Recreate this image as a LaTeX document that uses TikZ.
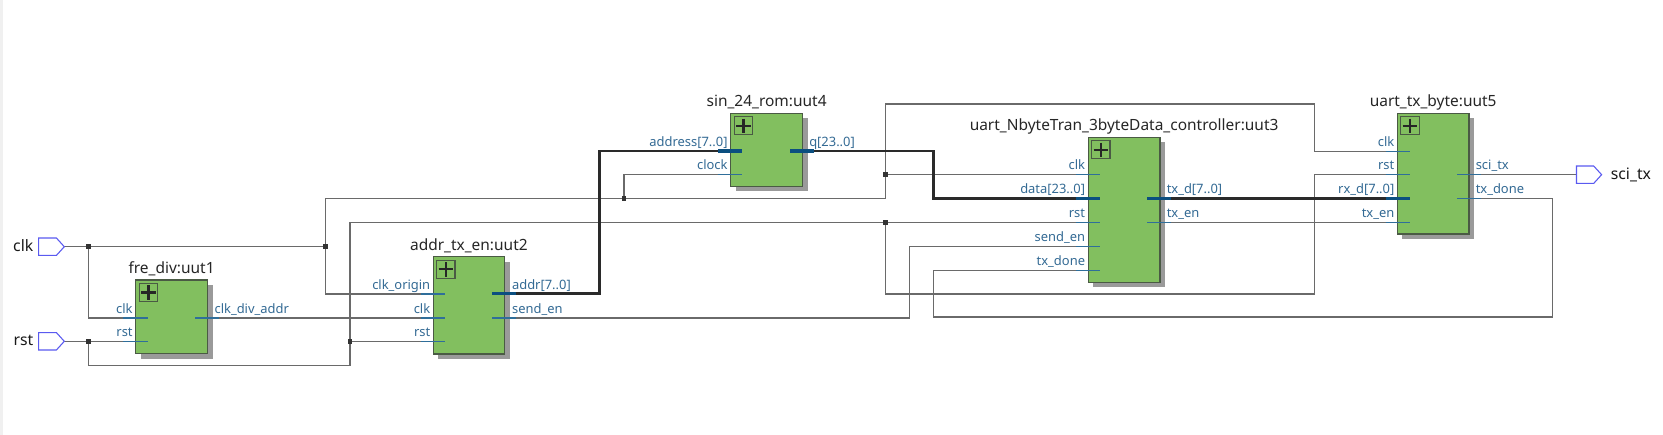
\documentclass[tikz,border=0pt]{standalone}
\usepackage{fontspec}
\setmainfont{Noto Sans}
\definecolor{blockgreen}{HTML}{82BF5F}
\definecolor{blockedge}{HTML}{4A5A44}
\definecolor{shade}{HTML}{9A9A9A}
\definecolor{wire}{HTML}{6A6A6A}
\definecolor{bus}{HTML}{2A2A2A}
\definecolor{stubblue}{HTML}{2F6E9A}
\definecolor{busblue}{HTML}{0B4F80}
\definecolor{labelblue}{HTML}{336A94}
\definecolor{portblue}{HTML}{5A5AF0}
\tikzset{
  x=0.75pt,y=-0.75pt,
  blockbox/.style={draw=blockedge,fill=blockgreen,line width=0.9pt,inner sep=0pt,outer sep=0pt},
  shadowbox/.style={fill=shade,draw=none},
  plusbox/.style={draw=blockedge,line width=0.8pt},
  plusmark/.style={draw=black!85,line width=1.7pt},
  net/.style={draw=wire,line width=0.9pt},
  busnet/.style={draw=bus,line width=2.1pt},
  pinstub/.style={draw=stubblue,line width=0.85pt},
  busstub/.style={draw=busblue,line width=2.3pt},
  dotj/.style={fill=black!80,draw=none},
  portshape/.style={draw=portblue,line width=0.8pt,fill=white,line join=miter},
  pinlabel/.style={text=labelblue,font=\fontsize{9.7}{11}\selectfont,inner sep=0pt},
  title/.style={text=black!85,font=\fontsize{11.6}{13}\selectfont,inner sep=0pt},
  extlabel/.style={text=black!90,font=\fontsize{11.8}{13}\selectfont,inner sep=0pt},
}
\newcommand\inlbl[4]{\node[pinlabel,anchor=base east] (#1) at (#2,#3-5) {#4};}
\newcommand\outlbl[4]{\node[pinlabel,anchor=base west] (#1) at (#2,#3-5) {#4};}
% name, left, top, right, bottom, title
\newcommand\block[6]{%
  \fill[shadowbox] (#2+5,#3+5) rectangle (#4+5,#5+5);
  \node[blockbox,minimum width=(#4-#2)*0.75pt,minimum height=(#5-#3)*0.75pt,anchor=north west] (#1) at (#2,#3) {};
  \draw[plusbox] (#2+3.6,#3+3.6) rectangle (#2+21.8,#3+21.6);
  \draw[plusmark] (#2+5.4,#3+12.6) -- (#2+20,#3+12.6) (#2+12.7,#3+5.4) -- (#2+12.7,#3+19.8);
  \node[title,anchor=base] (#1t) at ({(#2+#4)/2},#3-6.5) {#6};
}
\newcommand\jdot[1]{\fill[dotj] ($(#1)+(-2.3,-2.3)$) rectangle ($(#1)+(2.3,2.3)$);}
\usetikzlibrary{calc}
\begin{document}
\begin{tikzpicture}
\useasboundingbox (0,0) rectangle (1663,435);
\fill[white] (0,0) rectangle (1663,435);
\fill[black!6] (0,0) rectangle (3,435);

% pins
\coordinate (clkin) at (64.3,246.7);
\coordinate (rstin) at (64.3,341.3);
\coordinate (sciout) at (1576.5,174.7);
\coordinate (u1clk) at (123,318);
\coordinate (u1rst) at (123,341.3);
\coordinate (u1out) at (219,318);
\coordinate (u2origin) at (421,294);
\coordinate (u2clk) at (421,318);
\coordinate (u2rst) at (421,341.3);
\coordinate (u2addr) at (516,293.6);
\coordinate (u2send) at (516,318);
\coordinate (u4addr) at (718,151);
\coordinate (u4clock) at (718,174.7);
\coordinate (u4q) at (814,151);
\coordinate (u3clk) at (1076,174.7);
\coordinate (u3data) at (1076,198.7);
\coordinate (u3rst) at (1076,222.3);
\coordinate (u3send) at (1076,246.3);
\coordinate (u3done) at (1076,270.7);
\coordinate (u3txd) at (1171,198.7);
\coordinate (u3txen) at (1171,222.3);
\coordinate (u5clk) at (1385.5,151.3);
\coordinate (u5rst) at (1385.5,174.7);
\coordinate (u5rxd) at (1385.5,198.7);
\coordinate (u5txen) at (1385.5,222.3);
\coordinate (u5sci) at (1481,174.7);
\coordinate (u5done) at (1481,198.7);
% junctions
\coordinate (jclk1) at (88.2,246.7);
\coordinate (jclk2) at (325.7,246.7);
\coordinate (jclk3) at (623.9,198.7);
\coordinate (jclk4) at (885.7,174.7);
\coordinate (jrst1) at (88.2,341.3);
\coordinate (jrst2) at (350,341.3);
\coordinate (jrst3) at (885.7,222.3);

% nets
\draw[net] (clkin) -- (jclk2);
\draw[net] (jclk1) |- (u1clk);
\draw[net] (jclk2) |- (u2origin);
\draw[net] (jclk2) -- (325.7,198.7) -- (885.7,198.7) -- (885.7,104) -- (1314.4,104) |- (u5clk);
\draw[net] (jclk3) |- (u4clock);
\draw[net] (jclk4) -- (u3clk);
\draw[net] (rstin) -- (u1rst);
\draw[net] (jrst1) |- (350,365.3) -- (jrst2);
\draw[net] (jrst2) -- (u2rst);
\draw[net] (jrst2) |- (u3rst);
\draw[net] (jrst3) |- (1314.4,294) |- (u5rst);
\draw[net] (u1out) -- (u2clk);
\draw[net] (u2send) -| (909.6,246.3) -- (u3send);
\draw[net] (u3done) -| (933.2,317) -| (1552.4,198.7) -- (u5done);
\draw[net] (u3txen) -- (u5txen);
\draw[net] (u5sci) -- (sciout);
\draw[busnet] (u2addr) -| (599.3,151) -- (u4addr);
\draw[busnet] (u4q) -| (933.2,198.7) -- (u3data);
\draw[busnet] (u3txd) -- (u5rxd);

% blocks
\block{uut1}{135.7}{280}{207.5}{353.5}{fre\_div:uut1}
\block{uut2}{433.2}{256.7}{504.6}{354}{addr\_tx\_en:uut2}
\block{uut4}{730.7}{113.3}{802.5}{186.3}{sin\_24\_rom:uut4}
\block{uut3}{1088.2}{137.3}{1160}{282.3}{uart\_NbyteTran\_3byteData\_controller:uut3}
\block{uut5}{1397.3}{113.3}{1469}{234}{uart\_tx\_byte:uut5}

% pin stubs
\draw[pinstub] (u1clk) -- +(24.5,0);
\draw[pinstub] (u1rst) -- +(24.5,0);
\draw[pinstub] (u1out) -- +(-24.5,0);
\draw[pinstub] (u2origin) -- +(24,0);
\draw[pinstub] (u2clk) -- +(24,0);
\draw[pinstub] (u2rst) -- +(24,0);
\draw[busstub] (u2addr) -- +(-24,0);
\draw[pinstub] (u2send) -- +(-24,0);
\draw[busstub] (u4addr) -- +(24,0);
\draw[pinstub] (u4clock) -- +(24,0);
\draw[busstub] (u4q) -- +(-24,0);
\draw[pinstub] (u3clk) -- +(24,0);
\draw[busstub] (u3data) -- +(24,0);
\draw[pinstub] (u3rst) -- +(24,0);
\draw[pinstub] (u3send) -- +(24,0);
\draw[pinstub] (u3done) -- +(24,0);
\draw[busstub] (u3txd) -- +(-24,0);
\draw[pinstub] (u3txen) -- +(-24,0);
\draw[pinstub] (u5clk) -- +(24,0);
\draw[pinstub] (u5rst) -- +(24,0);
\draw[busstub] (u5rxd) -- +(24,0);
\draw[pinstub] (u5txen) -- +(24,0);
\draw[pinstub] (u5sci) -- +(-24,0);
\draw[pinstub] (u5done) -- +(-24,0);

% junction dots
\jdot{jclk1}\jdot{jclk2}\jdot{jclk3}\jdot{jclk4}\jdot{jrst1}\jdot{jrst2}\jdot{jrst3}

% pin labels
\inlbl{a1}{132.9}{318}{clk}
\inlbl{a2}{132.9}{341.3}{rst}
\outlbl{a3}{214.3}{318}{clk\_div\_addr}
\inlbl{b1}{430.5}{294}{clk\_origin}
\inlbl{b2}{430.5}{318}{clk}
\inlbl{b3}{430.5}{341.3}{rst}
\outlbl{b4}{511.8}{294}{addr[7..0]}
\outlbl{b5}{511.8}{318}{send\_en}
\inlbl{c1}{727.8}{151}{address[7..0]}
\inlbl{c2}{727.8}{174.7}{clock}
\outlbl{c3}{809}{151}{q[23..0]}
\inlbl{d1}{1085.3}{174.7}{clk}
\inlbl{d2}{1085.3}{198.7}{data[23..0]}
\inlbl{d3}{1085.3}{222.3}{rst}
\inlbl{d4}{1085.3}{246.3}{send\_en}
\inlbl{d5}{1085.3}{270.7}{tx\_done}
\outlbl{d6}{1166.5}{198.7}{tx\_d[7..0]}
\outlbl{d7}{1166.5}{222.3}{tx\_en}
\inlbl{e1}{1394.6}{151.3}{clk}
\inlbl{e2}{1394.6}{174.7}{rst}
\inlbl{e3}{1394.6}{198.7}{rx\_d[7..0]}
\inlbl{e4}{1394.6}{222.3}{tx\_en}
\outlbl{e5}{1475.5}{174.7}{sci\_tx}
\outlbl{e6}{1475.5}{198.7}{tx\_done}

% external ports
\draw[portshape] (38.6,238) -- (56.4,238) -- (clkin) -- (56.4,255.4) -- (38.6,255.4) -- cycle;
\draw[portshape] (38.6,332.6) -- (56.4,332.6) -- (rstin) -- (56.4,350) -- (38.6,350) -- cycle;
\draw[portshape] (sciout) -- (1576.5,166) -- (1593.7,166) -- (1601.6,174.7) -- (1593.7,183.4) -- (1576.5,183.4) -- cycle;
\node[extlabel,anchor=base east] (clkname) at (33.5,251) {clk};
\node[extlabel,anchor=base east] (rstname) at (33.5,345.5) {rst};
\node[extlabel,anchor=base west] (sciname) at (1610.6,179) {sci\_tx};
\end{tikzpicture}
\end{document}
